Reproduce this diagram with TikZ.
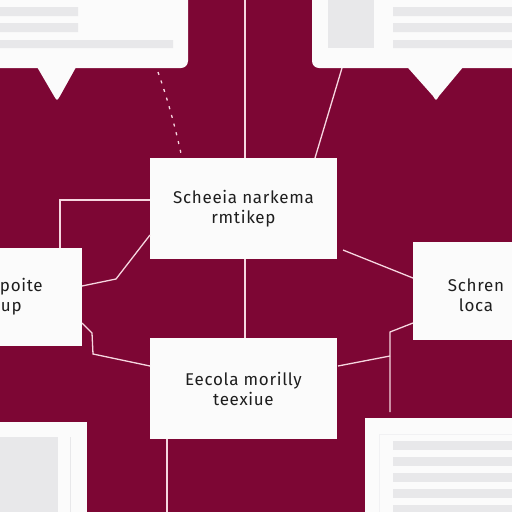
\documentclass[tikz,border=0pt]{standalone}
\usepackage{fontspec}
\setsansfont[LetterSpace=4]{Fira Sans}
\usepackage{tikz}
\usetikzlibrary{arrows.meta}
\definecolor{wine}{RGB}{125,6,52}
\definecolor{paper}{RGB}{251,251,251}
\definecolor{bar}{RGB}{232,232,234}
\definecolor{wire}{RGB}{246,214,224}
\definecolor{ink}{RGB}{30,30,30}

\begin{document}
\begin{tikzpicture}[x=1pt, y=-1pt]
\tikzstyle{box}=[rectangle, fill=paper, inner sep=0pt, text=ink, font=\sffamily\fontsize{17}{20}\selectfont, align=center]
\tikzstyle{link}=[draw=wire, line width=1.3pt]
\useasboundingbox (0,0) rectangle (512,512);
\clip (0,0) rectangle (512,512);
\fill[wine] (0,0) rectangle (512,512);

% cards round the edges
\fill[paper] (33,60) -- (80,60) -- (60,96) .. controls (57,101) .. (54,96) -- cycle;
\fill[paper] (401,60) -- (469,60) -- (439,96) .. controls (436,101) .. (433,96) -- cycle;
\fill[paper, rounded corners=7pt] (-10,-10) rectangle (188,68);
\fill[paper, rounded corners=7pt] (312,-10) rectangle (522,68);
\fill[bar] (0,7) rectangle (78,16) (0,23) rectangle (78,32) (0,40) rectangle (173,48);
\fill[bar] (328,0) rectangle (374,48);
\fill[bar] (393,7) rectangle (512,16) (393,23) rectangle (512,32) (393,40) rectangle (512,48);
\fill[paper] (0,422) rectangle (87,512);
\fill[bar] (0,437) rectangle (58,512);
\draw[bar, line width=0.8pt] (70,437) -- (70,512);
\fill[paper] (365,418) rectangle (512,512);
\draw[bar!60, line width=0.8pt] (379,512) |- (512,434);
\foreach \y in {441,457,473,489,505}
  \fill[bar] (393,\y) rectangle (512,\y+9);

\node[box, minimum width=187pt, minimum height=101pt] (schema) at (243.5,208.5) {Scheeia narkema\\rmtikep};
\node[box, minimum width=187pt, minimum height=101pt] (ecola) at (243.5,388.5) {Eecola morilly\\teexiue};
\node[box, minimum width=92pt, minimum height=98pt, text width=80pt, align=left] (pointe) at (36,297) {\hspace*{4pt}poite\\\hspace*{5pt}up};
\node[box, minimum width=120pt, minimum height=98pt] (schren) at (473,291) {};
\node[text=ink, font=\sffamily\fontsize{17}{20}\selectfont, align=center] (schrentext) at (476,295) {Schren\\loca};

\coordinate (topedge) at (245,0);
\coordinate (bottomedge) at (167,512);
\coordinate (tlfoot) at (158,72);
\coordinate (trfoot) at (342,68);
\coordinate (fork) at (390,356);

\draw[link] (topedge) -- (schema.north -| topedge);
\draw[link, dash pattern=on 3pt off 6pt] (tlfoot) .. controls (168,100) and (176,130) .. (182,158);
\draw[link] (trfoot) -- (315,158);
\draw[link] (60,248) |- (schema.west |- 0,200);
\draw[link] (82,286) -- (116,279) -- (150,235);
\draw[link] (82,323) -- (92,333) -- (93,354) -- (150,366);
\draw[link] (343,250) -- (413,278);
\draw[link] (413,323) -- (390,332) -- (390,412);
\draw[link] (fork) -- (338,366);
\draw[link] (schema.south -| topedge) -- (ecola.north -| topedge);
\draw[link] (ecola.south -| bottomedge) -- (bottomedge);
\end{tikzpicture}
\end{document}
